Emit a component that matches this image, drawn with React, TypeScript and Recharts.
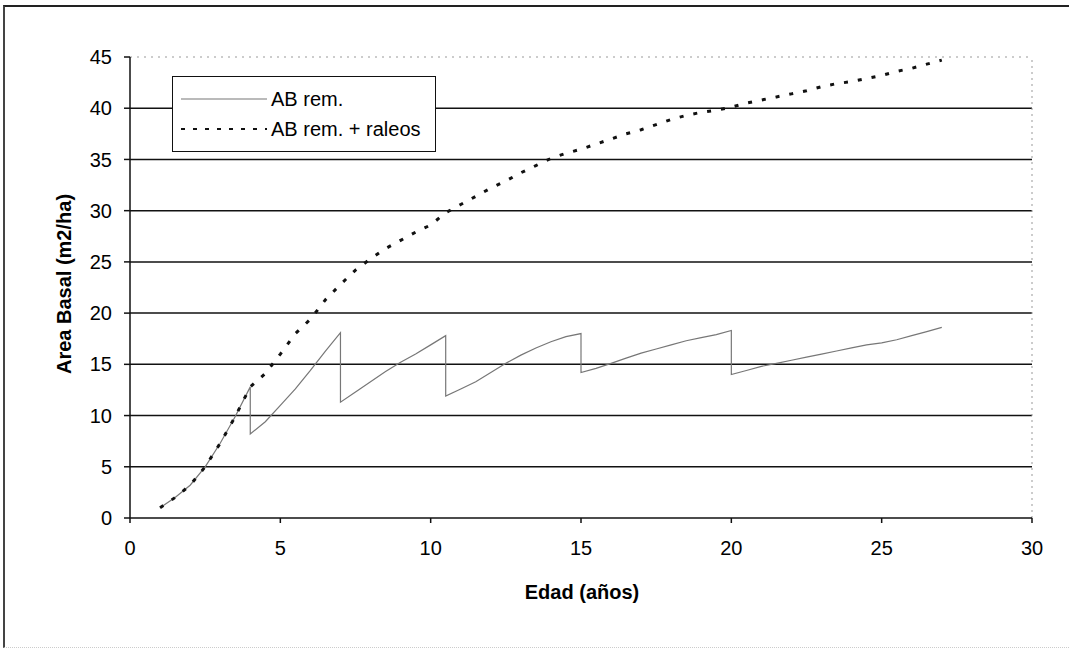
import React from 'react';
import {
  LineChart,
  Line,
  XAxis,
  YAxis,
  CartesianGrid,
  ReferenceLine,
} from 'recharts';

// AB rem. (remaining basal area, with thinning drops)
const remAges = [
  1, 1.5, 2, 2.5, 3, 3.5, 4, 4, 4.5, 5, 5.5, 6, 6.5, 7, 7, 7.5, 8, 8.5, 9, 9.5, 10, 10.5,
  10.5, 11, 11.5, 12, 12.5, 13, 13.5, 14, 14.5, 15, 15, 15.5, 16, 16.5, 17, 17.5, 18, 18.5,
  19, 19.5, 20, 20, 20.5, 21, 21.5, 22, 22.5, 23, 23.5, 24, 24.5, 25, 25.5, 26, 26.5, 27,
];
const remValues = [
  1.0, 2.0, 3.2, 5.0, 7.3, 9.9, 12.8, 8.2, 9.4, 11.0, 12.6, 14.4, 16.3, 18.1, 11.3, 12.3,
  13.3, 14.3, 15.2, 16.0, 16.9, 17.8, 11.9, 12.6, 13.3, 14.2, 15.1, 15.9, 16.6, 17.2, 17.7,
  18.0, 14.2, 14.6, 15.1, 15.6, 16.1, 16.5, 16.9, 17.3, 17.6, 17.9, 18.3, 14.0, 14.4, 14.8,
  15.1, 15.4, 15.7, 16.0, 16.3, 16.6, 16.9, 17.1, 17.4, 17.8, 18.2, 18.6,
];

// AB rem. + raleos (cumulative, including thinnings)
const totalAges = [
  1, 1.5, 2, 2.5, 3, 3.5, 4, 4.5, 5, 5.5, 6, 6.5, 7, 7.5, 8, 8.5, 9, 9.5, 10, 10.5, 11,
  11.5, 12, 12.5, 13, 13.5, 14, 14.5, 15, 15.5, 16, 16.5, 17, 17.5, 18, 18.5, 19, 19.5, 20,
  20.5, 21, 21.5, 22, 22.5, 23, 23.5, 24, 24.5, 25, 25.5, 26, 26.5, 27,
];
const totalValues = [
  1.0, 2.0, 3.2, 5.0, 7.3, 9.9, 12.8, 14.1, 16.0, 18.0, 19.4, 21.3, 22.8, 24.2, 25.3, 26.3,
  27.1, 27.9, 28.6, 29.8, 30.6, 31.4, 32.2, 32.9, 33.7, 34.4, 35.1, 35.6, 36.0, 36.5, 37.0,
  37.5, 37.9, 38.4, 38.9, 39.3, 39.6, 39.8, 40.1, 40.5, 40.8, 41.1, 41.4, 41.7, 42.1, 42.4,
  42.6, 42.9, 43.2, 43.6, 43.9, 44.3, 44.7,
];

const xTicks = [0, 5, 10, 15, 20, 25, 30];
const yTicks = [0, 5, 10, 15, 20, 25, 30, 35, 40, 45];
const gridValues = [5, 10, 15, 20, 25, 30, 35, 40];

const remData = remAges.map((age, i) => ({ age, value: remValues[i] }));
const totalData = totalAges.map((age, i) => ({ age, value: totalValues[i] }));

const FONT = '"Liberation Sans", Arial, sans-serif';

function LegendBox() {
  return (
    <div
      style={{
        position: 'absolute',
        left: 172,
        top: 76,
        border: '1.5px solid #111',
        background: '#fff',
        width: 264,
        height: 76,
        boxSizing: 'border-box',
        fontFamily: FONT,
        fontSize: 20,
        color: '#000',
        paddingTop: 7,
      }}
    >
      <div style={{ display: 'flex', alignItems: 'center', height: 30 }}>
        <svg width={98} height={10}>
          <line x1={8} y1={5} x2={94} y2={5} stroke="#777" strokeWidth={1.2} />
        </svg>
        <span>AB rem.</span>
      </div>
      <div style={{ display: 'flex', alignItems: 'center', height: 30 }}>
        <svg width={98} height={10}>
          <line x1={8} y1={5} x2={94} y2={5} stroke="#111" strokeWidth={2} strokeDasharray="4 8" />
        </svg>
        <span>AB rem. + raleos</span>
      </div>
    </div>
  );
}

export default function App() {
  return (
    <div
      style={{
        position: 'absolute',
        left: 0,
        top: 0,
        width: 1073,
        height: 650,
        background: '#fff',
        overflow: 'hidden',
      }}
    >
      {/* scanned page frame */}
      <div
        style={{
          position: 'absolute',
          left: 3,
          top: 5,
          width: 1064,
          height: 640,
          borderTop: '2px solid #222',
          borderLeft: '2px solid #444',
          borderBottom: '1px dotted #ccc',
        }}
      />
      <LineChart
        width={1073}
        height={650}
        margin={{ top: 57, right: 41, left: 0, bottom: 92 }}
        style={{ position: 'absolute', left: 0, top: 0 }}
      >
        <CartesianGrid
          horizontal
          vertical={false}
          horizontalValues={gridValues}
          stroke="#111"
          strokeWidth={1.5}
        />
        <ReferenceLine y={45} stroke="#999" strokeDasharray="2 5" />
        <ReferenceLine x={30} stroke="#999" strokeDasharray="2 4" />
        <XAxis
          type="number"
          dataKey="age"
          domain={[0, 30]}
          ticks={xTicks}
          height={40}
          stroke="#111"
          strokeWidth={1.5}
          tickSize={5}
          tickMargin={18}
          tick={{ fontSize: 20, fill: '#000', fontFamily: FONT }}
        />
        <YAxis
          type="number"
          domain={[0, 45]}
          ticks={yTicks}
          width={130}
          stroke="#111"
          strokeWidth={1.5}
          tickSize={6}
          tickMargin={12}
          tick={{ fontSize: 20, fill: '#000', fontFamily: FONT }}
        />
        <Line
          data={remData}
          dataKey="value"
          name="AB rem."
          type="linear"
          stroke="#777"
          strokeWidth={1.2}
          dot={false}
          isAnimationActive={false}
        />
        <Line
          data={totalData}
          dataKey="value"
          name="AB rem. + raleos"
          type="linear"
          stroke="#111"
          strokeWidth={3}
          strokeDasharray="4 10"
          dot={false}
          isAnimationActive={false}
        />
      </LineChart>
      <LegendBox />
      <div
        style={{
          position: 'absolute',
          left: 64,
          top: 284,
          transform: 'translate(-50%, -50%) rotate(-90deg)',
          whiteSpace: 'nowrap',
          fontFamily: FONT,
          fontWeight: 'bold',
          fontSize: 20,
        }}
      >
        Area Basal (m2/ha)
      </div>
      <div
        style={{
          position: 'absolute',
          left: 582,
          top: 592,
          transform: 'translate(-50%, -50%)',
          whiteSpace: 'nowrap',
          fontFamily: FONT,
          fontWeight: 'bold',
          fontSize: 20,
        }}
      >
        Edad (años)
      </div>
    </div>
  );
}
